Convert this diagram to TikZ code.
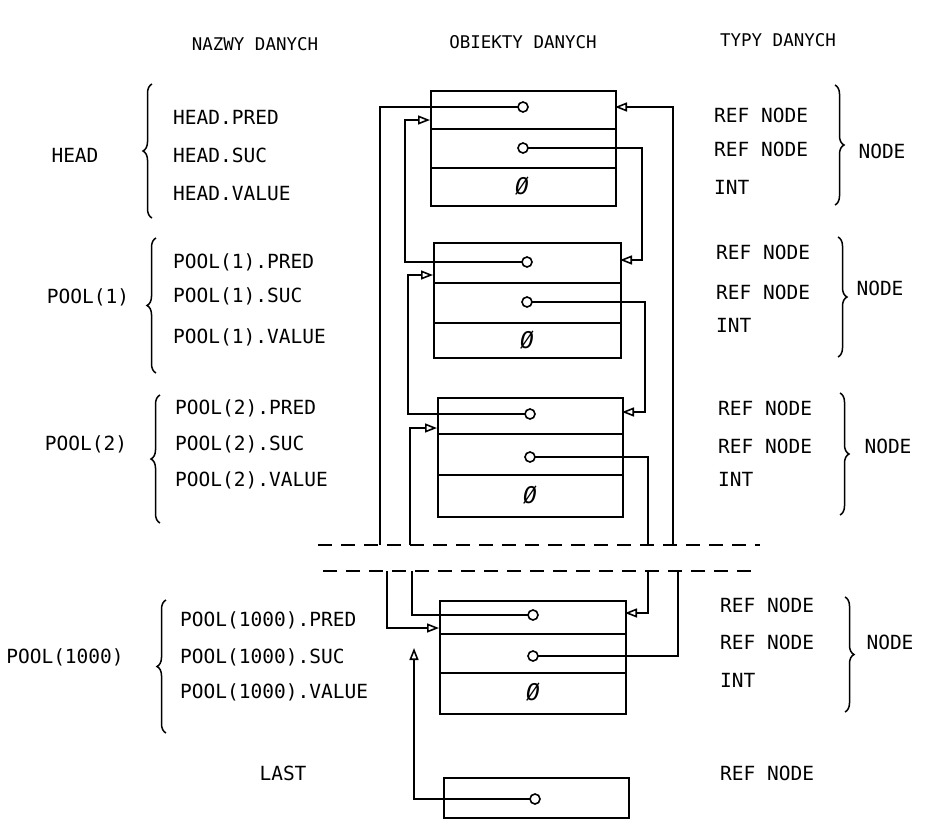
\documentclass[tikz,border=0pt]{standalone}
\usepackage{fontspec}
\setmonofont{DejaVu Sans Mono}
\usetikzlibrary{arrows.meta,decorations.pathreplacing}
\begin{document}
\begin{tikzpicture}[x=1pt,y=-1pt,
  lbl/.style={font=\fontsize{19.5}{19.5}\selectfont\ttfamily, inner sep=0pt},
  hdr/.style={font=\fontsize{17.5}{17.5}\selectfont\ttfamily, inner sep=0pt},
  cell/.style={draw, line width=2.2pt, inner sep=0pt, anchor=north west},
  ptr/.style={draw, circle, fill=white, minimum size=10pt, inner sep=0pt, line width=1.6pt},
  nil/.style={font=\fontsize{23}{23}\selectfont\ttfamily\itshape, inner sep=0pt},
  wire/.style={line width=1.8pt},
  arr/.style={wire, -{Triangle[open, length=12pt, width=9pt, line width=1.6pt]}},
  brc/.style={decorate, decoration={brace, amplitude=9pt}, line width=1.5pt},
  cut/.style={line width=1.8pt, dash pattern=on 14pt off 9pt}]
\useasboundingbox (0,0) rectangle (929,822);

% headers
\node[hdr] (hN) at (255,44) {NAZWY DANYCH};
\node[hdr] (hO) at (523,42) {OBIEKTY DANYCH};
\node[hdr] (hT) at (778,40) {TYPY DANYCH};

% ---------- boxes ----------
% HEAD
\node[cell, minimum width=185pt, minimum height=38pt] (h1) at (430,90) {};
\node[cell, minimum width=185pt, minimum height=39pt] (h2) at (430,128) {};
\node[cell, minimum width=185pt, minimum height=38pt] (h3) at (430,167) {};
% POOL(1)
\node[cell, minimum width=187pt, minimum height=40pt] (a1) at (433,242) {};
\node[cell, minimum width=187pt, minimum height=40pt] (a2) at (433,282) {};
\node[cell, minimum width=187pt, minimum height=35pt] (a3) at (433,322) {};
% POOL(2)
\node[cell, minimum width=185pt, minimum height=36pt] (b1) at (437,397) {};
\node[cell, minimum width=185pt, minimum height=41pt] (b2) at (437,433) {};
\node[cell, minimum width=185pt, minimum height=42pt] (b3) at (437,474) {};
% POOL(1000)
\node[cell, minimum width=186pt, minimum height=33pt] (c1) at (439,600) {};
\node[cell, minimum width=186pt, minimum height=39pt] (c2) at (439,633) {};
\node[cell, minimum width=186pt, minimum height=41pt] (c3) at (439,672) {};
% LAST
\node[cell, minimum width=185pt, minimum height=40pt] (l1) at (443,777) {};

% nil values
\node[nil] (h0) at (522,186) {Ø};
\node[nil] (a0) at (527,340) {Ø};
\node[nil] (b0) at (530,495) {Ø};
\node[nil] (c0) at (533,692) {Ø};

% ---------- break marks ----------
\coordinate (cutAl) at (318,545);
\coordinate (cutAr) at (760,545);
\coordinate (cutBl) at (323,571);
\coordinate (cutBr) at (760,571);
\draw[cut] (cutAl) -- (cutAr);
\draw[cut] (cutBl) -- (cutBr);

% free ends at the break
\coordinate (gA1) at (380,545);
\coordinate (gA2) at (410,545);
\coordinate (gA3) at (648,545);
\coordinate (gA4) at (673,545);
\coordinate (gB1) at (387,571);
\coordinate (gB2) at (412,571);
\coordinate (gB3) at (648,571);
\coordinate (gB4) at (678,571);
\coordinate (lastTip) at (414,648);

% entry points on box borders
\coordinate (hInL) at (430,120);
\coordinate (hInR) at (615,107);
\coordinate (aInL) at (433,275);
\coordinate (aInR) at (620,260);
\coordinate (bInL) at (437,428);
\coordinate (bInR) at (622,412);
\coordinate (cInL) at (439,628);
\coordinate (cInR) at (625,613);

% ---------- connectors ----------
% HEAD
\draw[wire] (523,107) coordinate (hpc) -| (gA1);
\draw[arr] (523,148) coordinate (hsc) -| (642,260) -- (aInR);
\draw[arr] (gA4) |- (hInR);
% POOL(1)
\draw[arr] (527,262) coordinate (apc) -| (405,120) -- (hInL);
\draw[arr] (527,302) coordinate (asc) -| (645,412) -- (bInR);
% POOL(2)
\draw[arr] (530,414) coordinate (bpc) -| (408,275) -- (aInL);
\draw[wire] (530,457) coordinate (bsc) -| (gA3);
\draw[arr] (gA2) |- (bInL);
% POOL(1000)
\draw[arr] (gB1) |- (cInL);
\draw[wire] (533,615) coordinate (cpc) -| (gB2);
\draw[arr] (gB3) |- (cInR);
\draw[wire] (533,656) coordinate (csc) -| (gB4);
% LAST
\draw[arr] (535,799) coordinate (lpc) -| (lastTip);

% pointer dots
\node[ptr] (hpd) at (hpc) {};
\node[ptr] (hsd) at (hsc) {};
\node[ptr] (apd) at (apc) {};
\node[ptr] (asd) at (asc) {};
\node[ptr] (bpd) at (bpc) {};
\node[ptr] (bsd) at (bsc) {};
\node[ptr] (cpd) at (cpc) {};
\node[ptr] (csd) at (csc) {};
\node[ptr] (lpd) at (lpc) {};

% ---------- names (left) ----------
\node[lbl] (nH) at (75,155) {HEAD};
\draw[brc] (152,218) coordinate (brH1) -- (152,84) coordinate (brH2);
\node[lbl, anchor=west] (nH1) at (173,117) {HEAD.PRED};
\node[lbl, anchor=west] (nH2) at (173,155) {HEAD.SUC};
\node[lbl, anchor=west] (nH3) at (173,194) {HEAD.VALUE};

\node[lbl] (nA) at (88,297) {POOL(1)};
\draw[brc] (156,373) coordinate (brA1) -- (156,238) coordinate (brA2);
\node[lbl, anchor=west] (nA1) at (173,262) {POOL(1).PRED};
\node[lbl, anchor=west] (nA2) at (173,296) {POOL(1).SUC};
\node[lbl, anchor=west] (nA3) at (173,337) {POOL(1).VALUE};

\node[lbl] (nB) at (86,444) {POOL(2)};
\draw[brc] (160,523) coordinate (brB1) -- (160,395) coordinate (brB2);
\node[lbl, anchor=west] (nB1) at (175,408) {POOL(2).PRED};
\node[lbl, anchor=west] (nB2) at (175,444) {POOL(2).SUC};
\node[lbl, anchor=west] (nB3) at (175,480) {POOL(2).VALUE};

\node[lbl] (nC) at (65,657) {POOL(1000)};
\draw[brc] (166,733) coordinate (brC1) -- (166,600) coordinate (brC2);
\node[lbl, anchor=west] (nC1) at (180,620) {POOL(1000).PRED};
\node[lbl, anchor=west] (nC2) at (180,657) {POOL(1000).SUC};
\node[lbl, anchor=west] (nC3) at (180,692) {POOL(1000).VALUE};

\node[lbl] (nL) at (283,773) {LAST};

% ---------- types (right) ----------
\node[lbl, anchor=west] (tH1) at (714,115) {REF NODE};
\node[lbl, anchor=west] (tH2) at (714,149) {REF NODE};
\node[lbl, anchor=west] (tH3) at (714,187) {INT};
\draw[brc] (835,85) coordinate (bTH1) -- (835,205) coordinate (bTH2);
\node[lbl] (tH) at (882,151) {NODE};

\node[lbl, anchor=west] (tA1) at (716,252) {REF NODE};
\node[lbl, anchor=west] (tA2) at (716,292) {REF NODE};
\node[lbl, anchor=west] (tA3) at (716,325) {INT};
\draw[brc] (838,237) coordinate (bTA1) -- (838,357) coordinate (bTA2);
\node[lbl] (tA) at (880,288) {NODE};

\node[lbl, anchor=west] (tB1) at (718,408) {REF NODE};
\node[lbl, anchor=west] (tB2) at (718,446) {REF NODE};
\node[lbl, anchor=west] (tB3) at (718,479) {INT};
\draw[brc] (840,393) coordinate (bTB1) -- (840,515) coordinate (bTB2);
\node[lbl] (tB) at (888,446) {NODE};

\node[lbl, anchor=west] (tC1) at (720,605) {REF NODE};
\node[lbl, anchor=west] (tC2) at (720,642) {REF NODE};
\node[lbl, anchor=west] (tC3) at (720,680) {INT};
\draw[brc] (845,597) coordinate (bTC1) -- (845,712) coordinate (bTC2);
\node[lbl] (tC) at (890,642) {NODE};

\node[lbl, anchor=west] (tL) at (720,773) {REF NODE};
\end{tikzpicture}
\end{document}
